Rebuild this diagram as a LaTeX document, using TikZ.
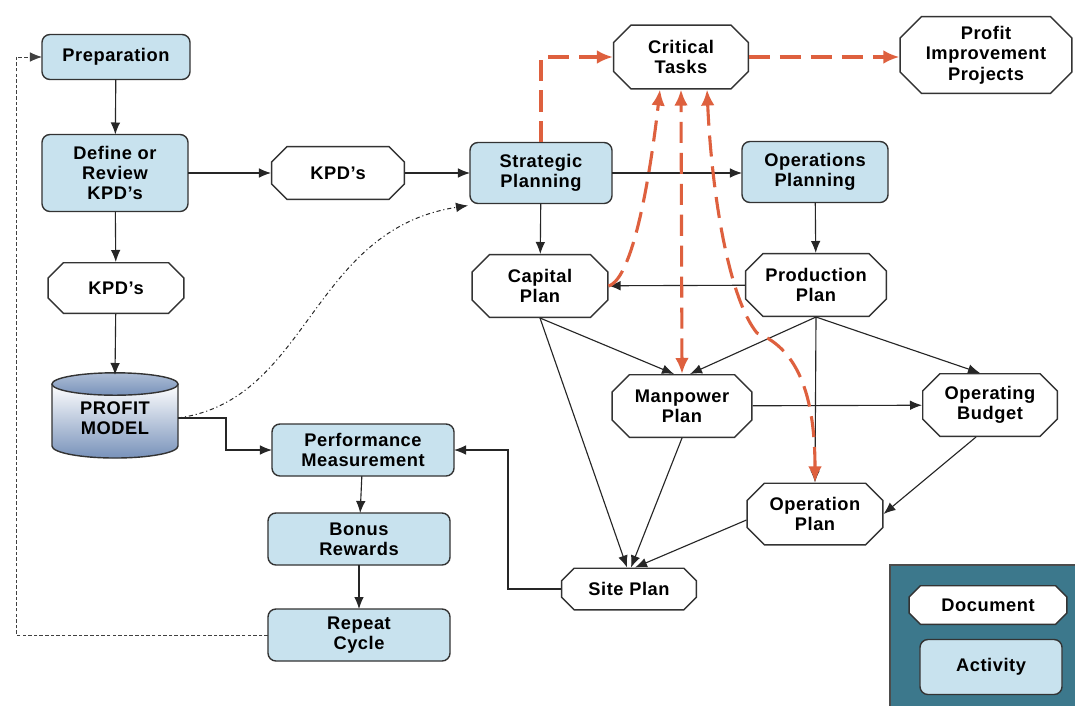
\documentclass[tikz,border=0pt]{standalone}
\usepackage{fontspec}
\setmainfont{Liberation Sans}[LetterSpace=3]
\usetikzlibrary{arrows.meta}
\definecolor{myblue}{RGB}{200,226,238}
\definecolor{myred}{RGB}{222,96,62}
\definecolor{myteal}{RGB}{60,120,140}
\definecolor{mysteel}{RGB}{120,146,186}

\tikzset{
chamf/.store in=\chamf, chamf=0.45cm,
act/.style={draw=black!80, line width=1pt, rounded corners=0.2cm, fill=myblue, align=center,
  font=\bfseries\fontsize{13}{14.5}\selectfont, inner sep=0pt, outer sep=0pt},
doc/.style={rectangle, align=center, font=\bfseries\fontsize{13}{14.5}\selectfont,
  inner sep=0pt, outer sep=0pt,
  path picture={
    \draw[draw=black!80, line width=1pt, fill=white]
      ([xshift=\chamf,yshift=-0.5pt]path picture bounding box.north west)
      -- ([xshift=-\chamf,yshift=-0.5pt]path picture bounding box.north east)
      -- ([xshift=-0.5pt,yshift=-\chamf]path picture bounding box.north east)
      -- ([xshift=-0.5pt,yshift=\chamf]path picture bounding box.south east)
      -- ([xshift=-\chamf,yshift=0.5pt]path picture bounding box.south east)
      -- ([xshift=\chamf,yshift=0.5pt]path picture bounding box.south west)
      -- ([xshift=0.5pt,yshift=\chamf]path picture bounding box.south west)
      -- ([xshift=0.5pt,yshift=-\chamf]path picture bounding box.north west) -- cycle;}},
flow/.style={-{Latex[length=3mm,width=2.4mm]}, line width=0.8pt, black!85},
task/.style={-{Latex[length=4mm,width=3.4mm]}, myred, line width=2.2pt, dash pattern=on 15pt off 7pt},
}

\begin{document}
\begin{tikzpicture}[x=0.025cm, y=-0.025cm]
\useasboundingbox[fill=white] (0,0) rectangle (1075,705);

% activities
\node[act, minimum width=3.7cm, minimum height=1.125cm] (prep) at (116,57) {Preparation};
\node[act, minimum width=3.65cm, minimum height=1.925cm] (def) at (115,173) {Define or\\Review\\KPD's};
\node[act, minimum width=3.55cm, minimum height=1.525cm] (strat) at (541,173) {Strategic\\Planning};
\node[act, minimum width=3.65cm, minimum height=1.525cm] (ops) at (815,172) {Operations\\Planning};
\node[act, minimum width=4.55cm, minimum height=1.3cm] (perf) at (363,450) {Performance\\Measurement};
\node[act, minimum width=4.55cm, minimum height=1.3cm] (bonus) at (359,539) {Bonus\\Rewards};
\node[act, minimum width=4.55cm, minimum height=1.3cm] (rep) at (359,635) {Repeat\\Cycle};

% documents
\node[doc, chamf=0.4cm, minimum width=3.425cm, minimum height=1.3cm] (kpda) at (116,288) {KPD's};
\node[doc, chamf=0.4cm, minimum width=3.35cm, minimum height=1.35cm] (kpdb) at (338,173) {KPD's};
\node[doc, minimum width=3.4cm, minimum height=1.625cm] (crit) at (681,57) {Critical\\Tasks};
\node[doc, chamf=0.55cm, minimum width=4.325cm, minimum height=1.95cm] (pip) at (986,55) {Profit\\Improvement\\Projects};
\node[doc, minimum width=3.425cm, minimum height=1.6cm] (cap) at (540,286) {Capital\\Plan};
\node[doc, minimum width=3.55cm, minimum height=1.6cm] (prod) at (816,285) {Production\\Plan};
\node[doc, minimum width=3.525cm, minimum height=1.6cm] (man) at (682,406) {Manpower\\Plan};
\node[doc, minimum width=3.4cm, minimum height=1.6cm] (budg) at (990,405) {Operating\\Budget};
\node[doc, minimum width=3.425cm, minimum height=1.575cm] (opp) at (815,514) {Operation\\Plan};
\node[doc, chamf=0.33cm, minimum width=3.4cm, minimum height=1.075cm] (site) at (629,589) {Site Plan};

% profit model drum
\shade[top color=white, bottom color=mysteel] (52,384) -- (52,446)
  arc[start angle=180, end angle=360, x radius=1.575cm, y radius=0.3cm] -- (178,384) -- cycle;
\draw[black!80, line width=1pt] (52,384) -- (52,446)
  arc[start angle=180, end angle=360, x radius=1.575cm, y radius=0.3cm] -- (178,384);
\shade[draw=black!80, line width=1pt, top color=mysteel!60, bottom color=mysteel]
  (115,384) ellipse[x radius=1.575cm, y radius=0.28cm];
\node[align=center, font=\bfseries\fontsize{13}{14.5}\selectfont, minimum width=3.15cm,
  minimum height=2.15cm, inner sep=0pt, outer sep=0pt] (pm) at (115,418) {PROFIT\\MODEL};

% legend
\draw[fill=myteal, draw=black!70, line width=1pt] (890,565) rectangle (1085,715);
\node[doc, chamf=0.3cm, minimum width=3.975cm, minimum height=1cm] (legdoc) at (988,605) {Document};
\node[act, minimum width=3.55cm, minimum height=1.375cm] (legact) at (991,667) {Activity};

% main flow
\draw[flow] (prep) -- (def);
\draw[flow] (def) -- (kpda);
\draw[flow] (kpda) -- (pm.north);
\draw[flow] (def) -- (kpdb);
\draw[flow] (kpdb) -- (strat);
\draw[flow] (strat.east) -- (ops.west |- strat.east);
\draw[flow] (strat) -- (cap);
\draw[flow] (ops) -- (prod);
\draw[flow] (prod) -- (cap);
\draw[flow] (cap.south) -- ([xshift=-0.2cm]man.north);
\draw[flow] (prod.south) -- ([xshift=0.2cm]man.north);
\draw[flow] (prod.south) -- ([xshift=-0.25cm]budg.north);
\draw[flow] (prod.south) -- (opp.north);
\draw[flow] (man) -- (budg);
\draw[flow] ([xshift=-0.35cm]budg.south) -- (opp.east);
\draw[flow] (cap.south) -- ([xshift=-0.05cm]site.north);
\draw[flow] (man.south) -- ([xshift=0.05cm]site.north);
\draw[flow] ([yshift=-0.15cm]opp.west) -- ([xshift=0.15cm]site.north);
\draw[flow] (site.west) -- ++(-53,0) |- (perf.east);
\draw[flow] (pm.east) -- ++(48,0) |- (perf.west);
\draw[flow] (perf) -- (bonus);
\draw[flow] (bonus) -- (rep);
\draw[flow, dash dot, line width=0.7pt] (pm.east) .. controls (310,400) and (310,230) .. ([xshift=-0.05cm,yshift=-0.05cm]strat.south west);
\draw[flow, black!75, line width=0.6pt, dash pattern=on 2.5pt off 1.5pt] (rep.west) -- ++(-252,0) |- (prep.west);

% critical tasks
\draw[task] (strat.north) |- (crit.west);
\draw[task] (crit.east) -- (pip.west |- crit.east);
\draw[task] (cap.east) .. controls (635,278) and (652,160) .. ([xshift=-0.525cm]crit.south);
\draw[task, {Latex[length=4mm,width=3.4mm]}-{Latex[length=4mm,width=3.4mm]}] (man.north) -- (crit.south);
\draw[task, {Latex[length=4mm,width=3.4mm]}-{Latex[length=4mm,width=3.4mm]}] (opp.north)
  .. controls (815,400) and (800,350) .. (757,333)
  .. controls (730,300) and (712,200) .. ([xshift=0.65cm]crit.south);
\end{tikzpicture}
\end{document}
